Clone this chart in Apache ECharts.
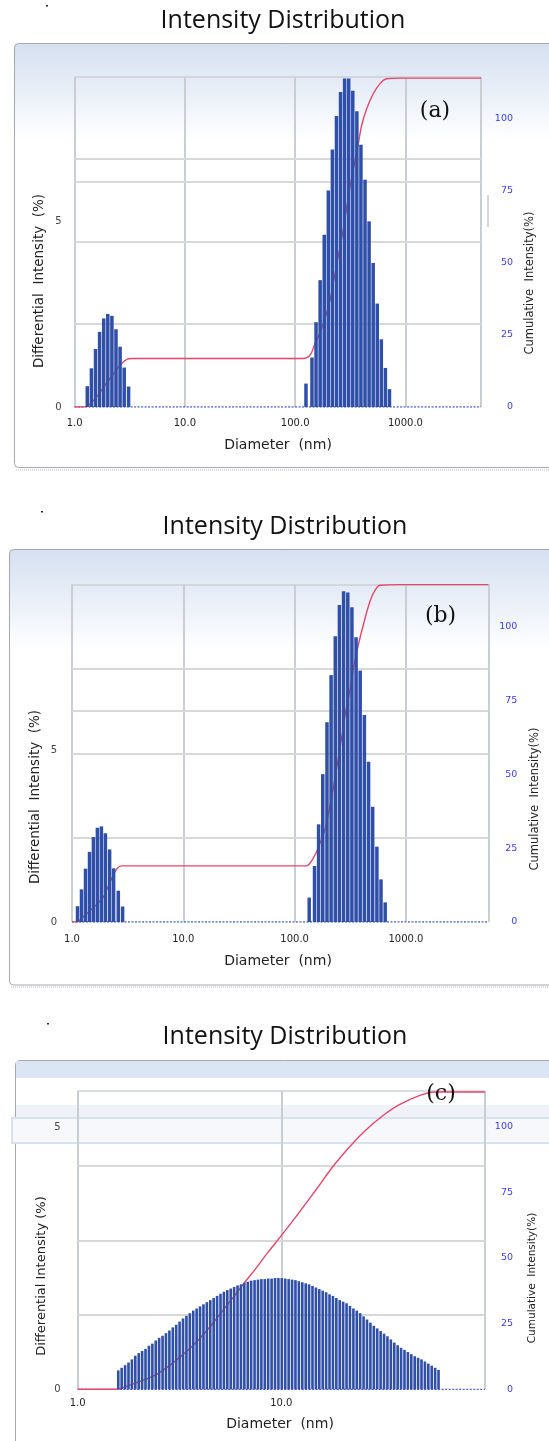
<!DOCTYPE html>
<html><head><meta charset="utf-8">
<script src="https://cdn.jsdelivr.net/npm/echarts/dist/echarts.min.js"></script>
<style>html,body{margin:0;padding:0;background:#fff}#c{width:549px;height:1441px}</style>
</head><body><div id="c"></div>
<script>
// ---------------- DATA ----------------
// Panel (a)
const diamA = [1.303, 1.420, 1.547, 1.685, 1.836, 2.000, 2.179, 2.373, 2.585, 2.817, 3.087,
  125.3, 142.0, 154.6, 168.4, 183.4, 199.7, 217.4, 236.8, 257.8, 280.7, 305.7, 332.9, 362.5, 394.7, 429.8, 468.0, 509.6, 554.9, 604.0, 657.7, 716.2];
const intensityA = [0.56, 1.04, 1.56, 2.02, 2.38, 2.50, 2.45, 2.09, 1.62, 1.06, 0.55,
  0.63, 1.33, 2.28, 3.41, 4.63, 5.82, 6.92, 7.82, 8.47, 8.83, 8.83, 8.50, 7.95, 7.05, 6.11, 4.99, 3.87, 2.78, 1.82, 1.05, 0.48];
const cumDiamA = [1.0, 1.192, 1.379, 1.640, 1.955, 2.291, 2.580, 3.004, 3.3, 117.7, 136.2, 151.2, 173.9, 206.8, 224.8, 245.9, 269.6, 314.0, 373.4, 400.9, 444.8, 510.7, 587.3, 675.3, 891.5, 4840];
const cumA = [0, 0, 1.0, 4.2, 8.4, 11.7, 14.5, 16.6, 16.8, 16.8, 17.9, 21.9, 27.1, 36.9, 44.2, 52.2, 60.3, 76.1, 91.1, 97.5, 103.2, 108.4, 111.9, 113.6, 113.8, 113.8];
const gridLinesA = [2.23, 4.44, 6.05, 6.67];

// Panel (b)
const diamB = [1.121, 1.217, 1.322, 1.436, 1.557, 1.691, 1.837, 1.995, 2.177, 2.364, 2.606, 2.849,
  135.1, 150.8, 164.1, 178.9, 195.2, 212.5, 231.7, 252.3, 275.2, 300.1, 326.8, 356.3, 387.9, 423.0, 461.5, 502.3, 548.0, 596.5, 650.6];
const intensityB = [0.46, 0.95, 1.55, 2.04, 2.47, 2.74, 2.78, 2.58, 2.11, 1.56, 0.91, 0.45,
  0.71, 1.63, 2.84, 4.30, 5.81, 7.18, 8.31, 9.22, 9.62, 9.58, 9.15, 8.28, 7.31, 6.02, 4.66, 3.35, 2.19, 1.24, 0.57];
const cumDiamB = [1.0, 1.102, 1.263, 1.609, 1.910, 2.119, 2.350, 2.552, 2.796, 127.5, 137.3, 152.3, 168.9, 187.3, 222.4, 260.8, 287.3, 314.1, 341.2, 372.9, 413.6, 458.7, 508.6, 584.3, 883.6, 5500];
const cumB = [0, 0, 1.8, 5.4, 8.4, 12.2, 15.9, 18.2, 19.0, 19.0, 19.9, 22.7, 26.7, 31.4, 45.3, 61.1, 71.2, 78.6, 87.0, 93.8, 100.6, 106.8, 111.3, 114.1, 114.3, 114.3];
const gridLinesB = [2.46, 4.90, 6.14, 7.37];

// Panel (c)
const diamC = [1.582,1.644,1.709,1.776,1.846,1.918,1.994,2.072,2.153,2.238,
  2.326,2.417,2.512,2.611,2.713,2.820,2.931,3.046,3.165,3.290,
  3.419,3.553,3.693,3.838,3.988,4.145,4.308,4.477,4.653,4.836,
  5.026,5.223,5.428,5.641,5.863,6.093,6.333,6.581,6.840,7.108,
  7.388,7.678,7.979,8.293,8.618,8.957,9.309,9.674,10.05,10.45,
  10.86,11.29,11.73,12.19,12.67,13.17,13.68,14.22,14.78,15.36,
  15.96,16.59,17.24,17.92,18.62,19.35,20.11,20.90,21.72,22.58,
  23.46,24.38,25.34,26.34,27.37,28.45,29.56,30.72,31.93,33.18,
  34.49,35.84,37.25,38.71,40.23,41.81,43.45,45.16,46.93,48.77,
  50.69,52.68,54.75,56.90,59.13];
const intensityC = [0.36,0.41,0.46,0.51,0.57,0.64,0.69,0.73,0.77,0.83,
  0.87,0.93,0.98,1.02,1.07,1.12,1.18,1.23,1.29,1.35,
  1.40,1.45,1.50,1.54,1.58,1.62,1.66,1.70,1.74,1.78,
  1.82,1.86,1.89,1.92,1.95,1.98,2.00,2.03,2.05,2.07,
  2.08,2.09,2.10,2.10,2.11,2.11,2.12,2.12,2.12,2.11,
  2.10,2.09,2.08,2.06,2.04,2.02,2.00,1.97,1.94,1.91,
  1.88,1.85,1.81,1.78,1.74,1.70,1.67,1.64,1.59,1.54,
  1.50,1.45,1.39,1.33,1.27,1.21,1.16,1.11,1.06,1.01,
  0.95,0.89,0.84,0.79,0.75,0.71,0.67,0.63,0.60,0.57,
  0.53,0.49,0.45,0.41,0.37];
const cumDiamC = [1.0, 1.552, 1.806, 2.099, 2.443, 2.839, 3.299, 3.839, 4.462, 5.185, 5.805, 6.501, 7.703, 8.403, 10.06, 12.01, 14.62, 18.20, 22.62, 26.50, 31.04, 37.79, 47.91, 56.13, 100];
const cumC = [0, 0, 1.6, 3.5, 5.7, 9.2, 13.3, 18.1, 23.8, 30.2, 35.0, 40.0, 47.2, 51.2, 58.8, 66.5, 75.4, 85.5, 94.0, 99.3, 103.8, 108.3, 111.9, 113.2, 113.2];
const gridLinesC = [1.43, 2.83, 4.26];

// text
const chartTitle = 'Intensity Distribution';
const panelTags = ['(a)', '(b)', '(c)'];
const xName = 'Diameter  (nm)';
const leftNames = ['Differential  Intensity  (%)', 'Differential  Intensity  (%)', 'Differential Intensity (%)'];
const rightName = 'Cumulative  Intensity(%)';

// ---------------- LAYOUT ----------------
const data = [
  {diam: diamA, inten: intensityA, cumD: cumDiamA, cum: cumA, lines: gridLinesA},
  {diam: diamB, inten: intensityB, cumD: cumDiamB, cum: cumB, lines: gridLinesB},
  {diam: diamC, inten: intensityC, cumD: cumDiamC, cum: cumC, lines: gridLinesC}
];
const layout = [
  {left:74.6, top:77, width:406.4, height:330, xMax:4840, yMax:8.87, cumMax:114.2, barW:3.5, xLabelMargin:11, leftMargin:13, rightMargin:32, smooth:0.3},
  {left:72, top:584.3, width:416.4, height:337.7, xMax:5500, yMax:9.82, cumMax:114.4, barW:3.5, xLabelMargin:12, leftMargin:15, rightMargin:29, smooth:0.3},
  {left:77.7, top:1090.7, width:407.3, height:298.6, xMax:100, yMax:5.69, cumMax:113.7, barW:2.6, xLabelMargin:9, leftMargin:17, rightMargin:28, smooth:0.4}
];

const grids = [], xAxes = [], yAxes = [], series = [];
function barRenderer(w) {
  return function (params, api) {
    const x = api.value(0);
    const top = api.coord([x, api.value(1)]);
    const base = api.coord([x, 0]);
    return {type: 'rect', shape: {x: top[0] - w / 2, y: top[1], width: w, height: base[1] - top[1]},
      style: {fill: '#2f4fa8'}};
  };
}
layout.forEach(function (p, i) {
  const d = data[i];
  grids.push({left: p.left, top: p.top, width: p.width, height: p.height, show: false, containLabel: false, outerBoundsMode: 'none'});
  xAxes.push({type: 'log', logBase: 10, gridIndex: i, min: 1, max: p.xMax,
    axisLine: {show: false}, axisTick: {show: false}, minorTick: {show: false}, minorSplitLine: {show: false},
    axisLabel: {formatter: function (v) { return Number(v).toFixed(1); }, color: '#222', fontFamily: 'DejaVu Sans', fontSize: 10,
      margin: p.xLabelMargin, showMaxLabel: false, showMinLabel: true, hideOverlap: false},
    splitLine: {show: true, lineStyle: {color: '#c9cdd4', width: 2}}});
  yAxes.push({type: 'value', gridIndex: i, position: 'left', min: 0, max: p.yMax, interval: 5,
    axisLine: {show: false}, axisTick: {show: false}, splitLine: {show: false},
    axisLabel: {color: '#444', fontFamily: 'DejaVu Sans', fontSize: 10, margin: p.leftMargin, showMaxLabel: false}});
  yAxes.push({type: 'value', gridIndex: i, position: 'right', min: 0, max: p.cumMax, interval: 25,
    axisLine: {show: false}, axisTick: {show: false}, splitLine: {show: false},
    axisLabel: {color: '#3c3cf0', fontFamily: 'DejaVu Sans', fontSize: 9.5, margin: p.rightMargin, align: 'right', showMaxLabel: false}});
  series.push({type: 'line', xAxisIndex: i, yAxisIndex: 2 * i, data: [[1, 0], [p.xMax, 0]], symbol: 'none', silent: true, z: 1,
    lineStyle: {color: '#4b63c6', width: 1.3, type: [2, 1.5]},
    markLine: {silent: true, symbol: 'none', z: 1, label: {show: false}, animation: false,
      lineStyle: {color: '#d8d8d8', width: 2, type: 'solid'},
      data: d.lines.map(function (v) { return {yAxis: v}; }).concat([{yAxis: p.yMax, lineStyle: {color: '#cdd0d6', width: 1.5, type: 'solid'}}])}});
  series.push({type: 'line', xAxisIndex: i, yAxisIndex: 2 * i + 1, data: d.cumD.map(function (x, k) { return [x, d.cum[k]]; }),
    symbol: 'none', showSymbol: false, smooth: p.smooth, silent: true, z: 2, lineStyle: {color: '#e6466a', width: 1.4}});
  series.push({type: 'custom', xAxisIndex: i, yAxisIndex: 2 * i, z: 3, silent: true,
    data: d.diam.map(function (x, k) { return [x, d.inten[k]]; }), renderItem: barRenderer(p.barW)});
});

function grad() {
  return new echarts.graphic.LinearGradient(0, 0, 0, 1, [
    {offset: 0, color: '#d6e0f0'}, {offset: 0.1, color: '#e6edf7'}, {offset: 0.23, color: '#ffffff'}, {offset: 1, color: '#ffffff'}]);
}
const frame = '#a3a7ae';
function txt(x, y, s, font, fill, rot) {
  return {type: 'text', x: x, y: y, rotation: rot || 0, z: 10, silent: true,
    style: {text: s, font: font, fill: fill, align: 'center', verticalAlign: 'middle'}};
}
const titleFont = '25px "Open Sans"';
const graphics = [
  {type: 'rect', z: -10, silent: true, shape: {x: 14.5, y: 43.5, width: 545, height: 424, r: 4}, style: {fill: grad(), stroke: frame, lineWidth: 1}},
  {type: 'line', z: -10, silent: true, shape: {x1: 16, y1: 470, x2: 549, y2: 470}, style: {stroke: '#b5b5b5', lineWidth: 1, lineDash: [1, 1]}},
  {type: 'rect', z: -10, silent: true, shape: {x: 9.5, y: 549.5, width: 550, height: 435.5, r: 4}, style: {fill: grad(), stroke: frame, lineWidth: 1}},
  {type: 'line', z: -10, silent: true, shape: {x1: 11, y1: 987, x2: 549, y2: 987}, style: {stroke: '#b5b5b5', lineWidth: 1, lineDash: [1, 1]}},
  {type: 'rect', z: -10, silent: true, shape: {x: 15.5, y: 1060.5, width: 545, height: 400, r: 4}, style: {fill: '#ffffff', stroke: frame, lineWidth: 1}},
  {type: 'rect', z: -9, silent: true, shape: {x: 16, y: 1061, width: 533, height: 17}, style: {fill: '#dbe5f3'}},
  {type: 'rect', z: -9, silent: true, shape: {x: 16, y: 1105, width: 533, height: 13}, style: {fill: '#eff3f9'}},
  {type: 'rect', z: -9, silent: true, shape: {x: 12, y: 1118, width: 545, height: 25}, style: {fill: '#f6f8fb', stroke: '#d9e1ee', lineWidth: 2}},
  {type: 'line', z: -9, silent: true, shape: {x1: 488, y1: 195, x2: 488, y2: 227}, style: {stroke: '#c8c8c8', lineWidth: 1.5}},
  {type: 'rect', z: 10, silent: true, shape: {x: 46, y: 5, width: 2, height: 1.5}, style: {fill: '#222'}},
  {type: 'rect', z: 10, silent: true, shape: {x: 41, y: 511, width: 2, height: 1.5}, style: {fill: '#222'}},
  {type: 'rect', z: 10, silent: true, shape: {x: 47, y: 1023, width: 2, height: 1.5}, style: {fill: '#222'}},
  txt(283, 21, chartTitle, titleFont, '#111'),
  txt(285, 527, chartTitle, titleFont, '#111'),
  txt(285, 1037, chartTitle, titleFont, '#111'),
  txt(435, 111, panelTags[0], '22px "DejaVu Serif"', '#111'),
  txt(440.5, 616, panelTags[1], '22px "DejaVu Serif"', '#111'),
  txt(441, 1094, panelTags[2], '22px "DejaVu Serif"', '#111'),
  txt(278, 445, xName, '14px "DejaVu Sans"', '#222'),
  txt(278, 961.5, xName, '14px "DejaVu Sans"', '#222'),
  txt(280, 1424, xName, '14px "DejaVu Sans"', '#222'),
  txt(39.5, 281, leftNames[0], '13.5px "DejaVu Sans"', '#222', Math.PI / 2),
  txt(35, 797, leftNames[1], '13.5px "DejaVu Sans"', '#222', Math.PI / 2),
  txt(42, 1276, leftNames[2], '13px "DejaVu Sans"', '#222', Math.PI / 2),
  txt(530.5, 283, rightName, '11.5px "DejaVu Sans"', '#222', Math.PI / 2),
  txt(535.5, 799, rightName, '11.5px "DejaVu Sans"', '#222', Math.PI / 2),
  txt(532, 1278, rightName, '10.5px "DejaVu Sans"', '#222', Math.PI / 2)
];

const chart = echarts.init(document.getElementById('c'), null, {renderer: 'canvas', width: 549, height: 1441});
chart.setOption({
  animation: false,
  backgroundColor: '#ffffff',
  grid: grids, xAxis: xAxes, yAxis: yAxes, series: series,
  graphic: {elements: graphics}
});
</script></body></html>
